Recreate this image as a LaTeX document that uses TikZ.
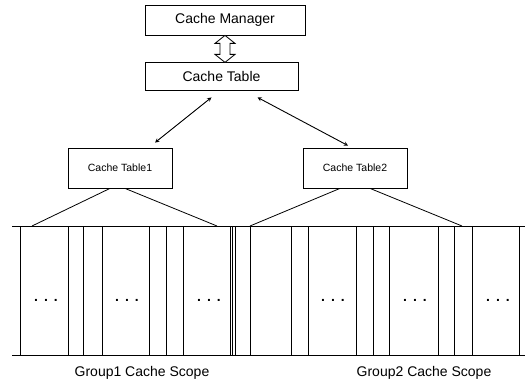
\documentclass[tikz,border=0pt]{standalone}
\usepackage{fontspec}
\setmainfont{Liberation Sans}
\begin{document}
\begin{tikzpicture}[x=1pt, y=-1pt, line width=0.8pt,
	box/.style={draw, rectangle, inner sep=0pt, font=\fontsize{14}{16}\selectfont},
	subbox/.style={draw, rectangle, inner sep=0pt, minimum width=104pt, minimum height=40pt, font=\fontsize{10.5}{12}\selectfont},
	link/.style={stealth-stealth, line width=0.9pt},
	dotrow/.style={inner sep=0pt, font=\fontsize{14}{16}\selectfont\bfseries},
	grouplabel/.style={font=\fontsize{14}{16}\selectfont}]
	\useasboundingbox (0,0) rectangle (529,382);
	\node [box, minimum width=160pt, minimum height=30pt] (cm) at (225,20) {Cache Manager};
	\node [box, minimum width=153pt, minimum height=28pt] (ct) at (221.5,76) {Cache Table};
	\node [subbox] (ct1) at (120,168) {Cache Table1};
	\node [subbox] (ct2) at (355,168) {Cache Table2};
	\draw [fill=white] (cm.south) -- ++(10,8) -- ++(-5,0) -- ++(0,11) -- ++(5,0) -- ++(-10,8)
		-- ++(-10,-8) -- ++(5,0) -- ++(0,-11) -- ++(-5,0) -- cycle;
	\draw [link] ([xshift=-10pt, yshift=-7pt]ct.south) -- ([xshift=35pt, yshift=5pt]ct1.north);
	\draw [link] ([xshift=36pt, yshift=-7pt]ct.south) -- ([xshift=-7pt, yshift=2pt]ct2.north);
	\coordinate (rowtl) at (12,226);
	\coordinate (rowtr) at (525,226);
	\coordinate (rowbl) at (12,355);
	\coordinate (rowbr) at (525,355);
	\draw (rowtl) -- (rowtr);
	\draw (rowbl) -- (rowbr);
	\foreach \x in {20,68,83,102,149,166,183,230,232.5,235,250,291,308,356,373,389,438,454,472,519}
		\draw (\x,226) -- (\x,355);
	\coordinate (span1l) at (32,226);
	\coordinate (span1r) at (217,226);
	\coordinate (span2l) at (250,226);
	\coordinate (span2r) at (462,226);
	\draw ([xshift=-10pt]ct1.south) -- (span1l);
	\draw ([xshift=5pt]ct1.south) -- (span1r);
	\draw ([xshift=-15pt]ct2.south) -- (span2l);
	\draw ([xshift=15pt]ct2.south) -- (span2r);
	\foreach \x in {46,127,209,333,415,498}
		\node [dotrow] (dots\x) at (\x,300) {.\hspace{6pt}.\hspace{6pt}.};
	\node [grouplabel] (g1) at (142,373) {Group1 Cache Scope};
	\node [grouplabel] (g2) at (424,373) {Group2 Cache Scope};
\end{tikzpicture}
\end{document}
